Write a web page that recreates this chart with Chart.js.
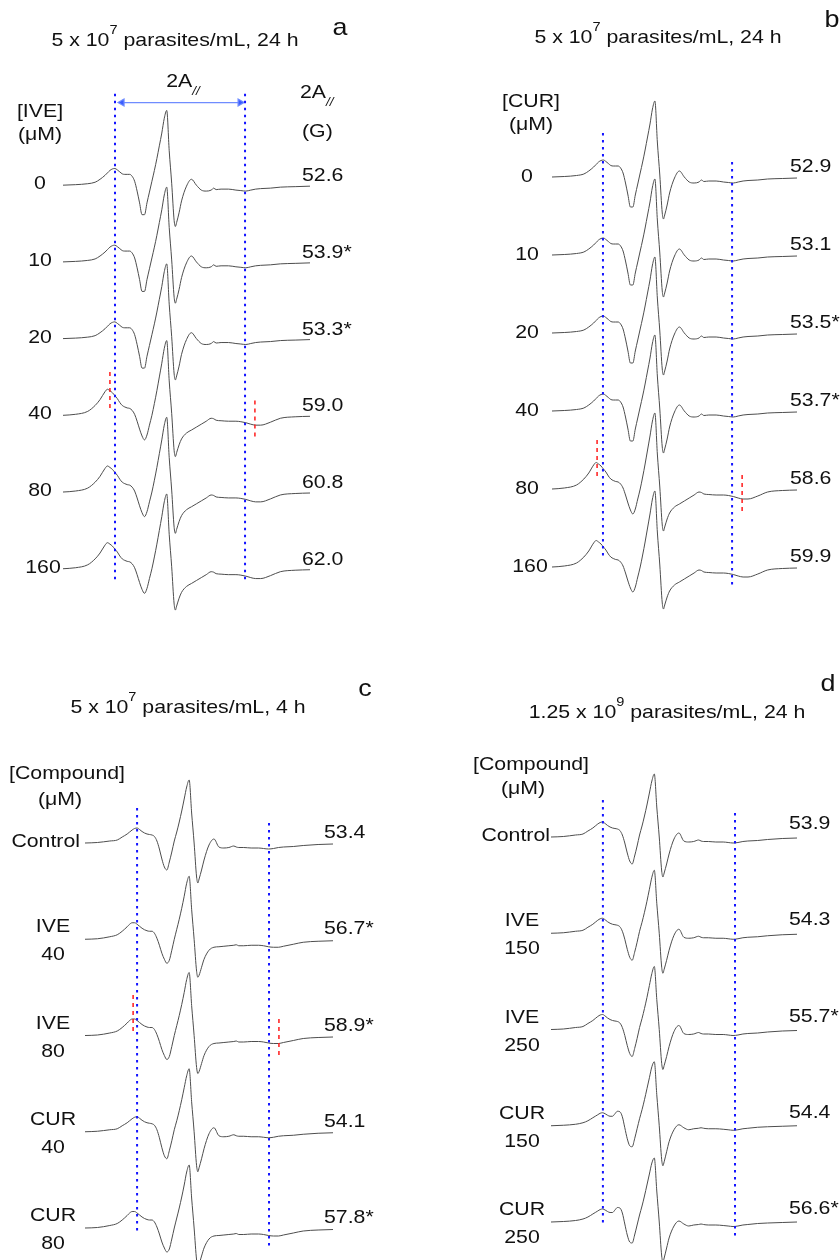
<!DOCTYPE html>
<html lang="en">
<head>
  <meta charset="UTF-8" />
  <title>EPR spectra, 2A// of spin label</title>
  <script src="https://cdn.jsdelivr.net/npm/chart.js"></script>
  <style>
    body {
      margin: 0;
      background: #fff;
      font-family: 'Liberation Sans', Arial, sans-serif;
      color: #111;
    }
    #page {
      position: relative;
      width: 840px;
      height: 1260px;
      overflow: hidden;
    }
    canvas { position: absolute; }
    .t {
      position: absolute;
      white-space: nowrap;
      font-size: 19px;
      line-height: 1;
      transform-origin: 50% 50%;
      transform: translate(-50%, -50%) scaleX(1.12);
    }
    .t.l { transform-origin: 0 50%; transform: translate(0, -50%) scaleX(1.12); }
    .t.r { transform-origin: 100% 50%; transform: translate(-100%, -50%) scaleX(1.12); }
    .t sup { font-size: 13px; position: relative; top: -4px; }
    .t sub { font-size: 12px; position: relative; top: 3px; font-style: italic; }
    .big { font-size: 24px; }
  </style>
</head>
<body>
<div id="page"></div>

<script>
  // magnetic field axis (G), common to every trace (sweep of 100 G)
  const fieldG = [0, 5, 10, 13, 15, 17, 18, 19, 20, 21, 22, 23, 24, 25, 26, 27, 28, 29, 30, 31, 32, 33, 34, 35,
    36, 37, 38, 39, 40, 41, 42, 43, 44, 45, 45.5, 46, 47, 48, 50, 52, 54, 56, 58, 60, 61, 62, 64, 67, 70,
    72, 74, 76, 78, 80, 84, 88, 94, 100];

  // spectrum shapes (first-derivative EPR signal, a.u.)
  const narrowAB = [0, 0.5, 1.5, 3, 6, 10, 12.5, 15, 16.5, 17, 15.5, 13.5, 11.5, 11, 11, 11, 9, 4, -6, -18, -30, -30,
    -18, -7, 4, 15, 27, 40, 53, 68, 76, 35, 2, -36, -42, -38, -28, -16, -1, 6, 0, -5, -6, -5, -3, -4.5, -4,
    -4, -5, -5.5, -6, -5, -4, -3.5, -3, -2, -1.5, -1];
  const broadAB = [0, 1, 4, 10, 16, 24, 26.5, 25, 23, 20, 17, 13, 10, 8.5, 7.5, 7, 5, 1, -6, -14, -21, -25,
    -20, -10, 0, 12, 25, 39, 53, 68, 76, 35, 2, -36, -42, -38, -30, -24, -18, -15, -12, -9, -6, -3, -3.5, -5, -5.5,
    -6, -6, -6.5, -7.5, -9, -10, -10, -7, -3, -1.5, -1];
  const narrowCD = [0, 0.5, 2, 3, 6, 9, 11, 13, 14.5, 15, 13.5, 11.5, 10, 9, 8.5, 8, 6.5, 2, -6, -16, -24, -27,
    -19, -9, 2, 11, 21, 32, 44, 56, 63, 30, 0, -34, -40, -36, -27, -17, -2, 4, -4, -5, -4.5, -3, -4, -4.5, -4.5,
    -5, -5, -5.5, -6, -5.5, -4.5, -4, -3.5, -2.5, -1.5, -1];
  const broadCD = [0, 0.5, 2.5, 4.5, 8, 12.5, 15, 16.5, 16.5, 15, 13, 11, 9.5, 8.5, 8, 8, 6, 1, -6, -14, -20, -24,
    -21, -11, 0, 10, 20, 31, 43, 56, 63, 30, 0, -32, -38, -36, -28, -20, -11, -8, -7.5, -7, -6.5, -6, -5.5, -6.5, -6.5,
    -6, -6, -6.5, -7.5, -8, -8, -7, -5, -3, -2, -1.5];
  const curD = [0, 0.5, 1.5, 3, 5, 8, 9.5, 11, 12.5, 13, 12, 10.5, 9.5, 9.5, 12, 14.5, 14, 9, -2, -13, -20, -21,
    -13, -3, 7, 16, 26, 37, 48, 59, 64, 31, 0, -34, -40, -36, -26, -16, -4, 1, -2, -4, -3, -2.5, -2, -2.5, -3,
    -3, -3.5, -4, -4.5, -4, -3, -2.5, -1.5, -1, -0.5, 0];

  // panel a: ivermectin, 5 x 10^7 parasites/mL, 24 h
  const doseA = ['0', '10', '20', '40', '80', '160'];
  const twoAA = [52.6, 53.9, 53.3, 59.0, 60.8, 62.0];
  const starA = [false, true, true, false, false, false];
  const shapeA = [narrowAB, narrowAB, narrowAB, broadAB, broadAB, broadAB];
  const blueA = [21.05, 73.7];
  const redA = [19.0, 77.7];

  // panel b: curcumin, 5 x 10^7 parasites/mL, 24 h
  const doseB = ['0', '10', '20', '40', '80', '160'];
  const twoAB = [52.9, 53.1, 53.5, 53.7, 58.6, 59.9];
  const starB = [false, false, true, true, false, false];
  const shapeB = [narrowAB, narrowAB, narrowAB, narrowAB, broadAB, broadAB];
  const blueB = [20.8, 73.5];
  const redB = [18.4, 77.6];

  // panel c: 5 x 10^7 parasites/mL, 4 h
  const doseC = [['Control'], ['IVE', '40'], ['IVE', '80'], ['CUR', '40'], ['CUR', '80']];
  const twoAC = [53.4, 56.7, 58.9, 54.1, 57.8];
  const starC = [false, true, true, false, true];
  const shapeC = [narrowCD, broadCD, broadCD, narrowCD, broadCD];
  const blueC = [21.0, 74.2];
  const redC = [19.4, 78.2];

  // panel d: 1.25 x 10^9 parasites/mL, 24 h
  const doseD = [['Control'], ['IVE', '150'], ['IVE', '250'], ['CUR', '150'], ['CUR', '250']];
  const twoAD = [53.9, 54.3, 55.7, 54.4, 56.6];
  const starD = [false, false, true, false, true];
  const shapeD = [narrowCD, narrowCD, narrowCD, curD, curD];
  const blueD = [21.1, 74.8];
  const redD = [];

  const page = document.getElementById('page');

  function text(html, x, y, cls) {
    const d = document.createElement('div');
    d.className = 't' + (cls ? ' ' + cls : '');
    d.innerHTML = html;
    d.style.left = x + 'px';
    d.style.top = y + 'px';
    page.appendChild(d);
  }

  // layout of each panel (pixels) and vertical extents of the marker lines (a.u.)
  const panels = [
    { left: 0, top: 0, padL: 63, padR: 110, yTop: 183, step: 78,
      dose: doseA, twoA: twoAA, star: starA, shapes: shapeA, blue: blueA, red: redA,
      blueY: [[93, -402], [93, -402]], redY: [[-190, -230], [-219, -257]],
      labelX: 40, labelDy: -3, valueX: 302, valueDy: -11, arrow: { y: 84, g: [23.9, 71.7] } },
    { left: 420, top: 0, padL: 132, padR: 43, yTop: 177, step: 78,
      dose: doseB, twoA: twoAB, star: starB, shapes: shapeB, blue: blueB, red: redB,
      blueY: [[44, -382], [15, -410]], redY: [[-263, -303], [-298, -336]],
      labelX: 527, labelDy: -2, valueX: 790, valueDy: -12 },
    { left: 0, top: 630, padL: 85, padR: 87, yTop: 213, step: 96.25,
      dose: doseC, twoA: twoAC, star: starC, shapes: shapeC, blue: blueC, red: redC,
      blueY: [[35, -390], [20, -405]], redY: [[-152, -192], [-176, -214]],
      labelX: 53, controlX: 80, valueX: 324, valueDy: -12 },
    { left: 420, top: 630, padL: 131, padR: 43, yTop: 207, step: 96.25,
      dose: doseD, twoA: twoAD, star: starD, shapes: shapeD, blue: blueD, red: redD,
      blueY: [[37, -388], [24, -401]], redY: [],
      labelX: 522, controlX: 550, valueX: 789, valueDy: -15 }
  ];

  panels.forEach(p => {
    const cv = document.createElement('canvas');
    cv.width = 420;
    cv.height = 630;
    cv.style.left = p.left + 'px';
    cv.style.top = p.top + 'px';
    page.appendChild(cv);

    const datasets = [];
    p.shapes.forEach((shape, k) => {
      const base = -k * p.step;
      datasets.push({
        data: fieldG.map((g, i) => ({ x: g, y: shape[i] + base })),
        borderColor: '#4d4d4d', borderWidth: 1, pointRadius: 0,
        cubicInterpolationMode: 'monotone', order: 2
      });
    });
    p.blue.forEach((g, i) => {
      datasets.push({
        data: [{ x: g, y: p.blueY[i][0] }, { x: g, y: p.blueY[i][1] }],
        borderColor: '#1414ff', borderWidth: 2, borderDash: [2.5, 4.5], pointRadius: 0, order: 1
      });
    });
    p.red.forEach((g, i) => {
      datasets.push({
        data: [{ x: g, y: p.redY[i][0] }, { x: g, y: p.redY[i][1] }],
        borderColor: '#ff1a1a', borderWidth: 1.5, borderDash: [4, 4], pointRadius: 0, order: 1
      });
    });
    if (p.arrow) {
      datasets.push({
        data: [{ x: p.arrow.g[0], y: p.arrow.y }, { x: p.arrow.g[1], y: p.arrow.y }],
        borderColor: '#6f8cff', backgroundColor: '#3a5cff', borderWidth: 1.2,
        pointStyle: 'triangle', pointRadius: 4, pointRotation: [-90, 90], order: 1
      });
    }

    const chart = new Chart(cv, {
      type: 'line',
      data: { datasets },
      options: {
        responsive: false,
        animation: false,
        events: [],
        layout: { padding: { left: p.padL, right: p.padR, top: 0, bottom: 0 } },
        plugins: { legend: { display: false }, tooltip: { enabled: false } },
        scales: {
          x: { type: 'linear', min: 0, max: 100, display: false },
          y: { min: p.yTop - 630, max: p.yTop, display: false }
        }
      }
    });

    // row labels and 2A// values, placed at each trace baseline
    const ys = chart.scales.y;
    p.dose.forEach((lab, k) => {
      const yb = p.top + ys.getPixelForValue(-k * p.step);
      if (Array.isArray(lab)) {
        if (lab.length === 1) {
          text(lab[0], p.controlX, yb - 3, 'r');
        } else {
          text(lab[0], p.labelX, yb - 14);
          text(lab[1], p.labelX, yb + 14);
        }
      } else {
        text(lab, p.labelX + (lab.length > 2 ? 3 : 0), yb + p.labelDy);
      }
      text(p.twoA[k].toFixed(1) + (p.star[k] ? '*' : ''), p.valueX, yb + p.valueDy, 'l');
    });
  });

  // titles and headings
  text('5 x 10<sup>7</sup> parasites/mL, 24 h', 175, 38);
  text('a', 340, 27, 'big');
  text('2A<sub>//</sub>', 183, 82);
  text('[IVE]', 40, 110);
  text('(&mu;M)', 40, 133);
  text('2A<sub>//</sub>', 300, 93, 'l');
  text('(G)', 302, 130, 'l');

  text('5 x 10<sup>7</sup> parasites/mL, 24 h', 658, 35);
  text('b', 832, 19, 'big');
  text('[CUR]', 531, 100);
  text('(&mu;M)', 531, 123);

  text('5 x 10<sup>7</sup> parasites/mL, 4 h', 188, 705);
  text('c', 365, 688, 'big');
  text('[Compound]', 67, 772);
  text('(&mu;M)', 60, 798);

  text('1.25 x 10<sup>9</sup> parasites/mL, 24 h', 667, 710);
  text('d', 828, 683, 'big');
  text('[Compound]', 531, 763);
  text('(&mu;M)', 523, 787);
</script>
</body>
</html>
